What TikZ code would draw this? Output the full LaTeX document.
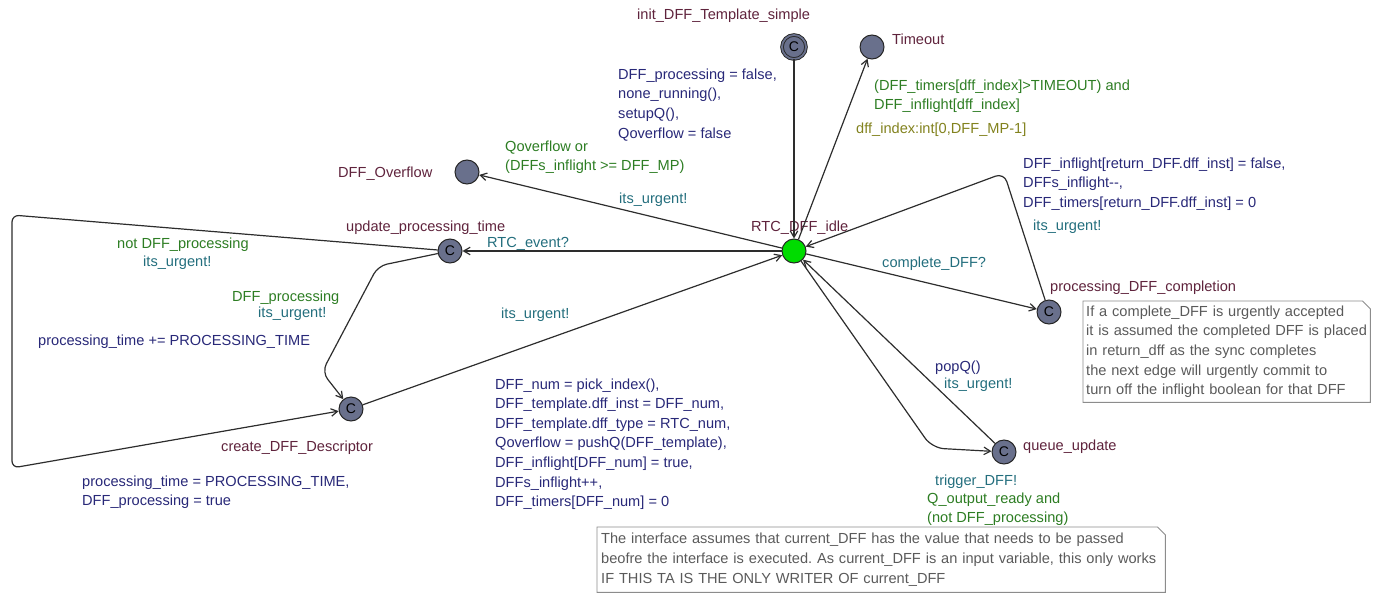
\documentclass[tikz,border=0pt]{standalone}
\usepackage{fontspec}
\setmainfont{Liberation Sans}
\usetikzlibrary{arrows.meta,calc}
\frenchspacing

\definecolor{locname}{RGB}{95,35,60}
\definecolor{updcol}{RGB}{40,40,120}
\definecolor{grdcol}{RGB}{45,125,35}
\definecolor{syncol}{RGB}{35,110,125}
\definecolor{selcol}{RGB}{130,130,30}
\definecolor{notetext}{RGB}{90,90,90}
\definecolor{noteline}{RGB}{140,140,140}
\definecolor{locfill}{RGB}{105,112,140}
\definecolor{idlefill}{RGB}{0,220,0}
\definecolor{edgecol}{RGB}{45,45,45}

\tikzset{
  txt/.style={font=\fontsize{14.6}{19.6}\selectfont},
  loc/.style={circle, minimum size=24pt, inner sep=0pt, fill=locfill,
    draw=black!85, line width=1pt, font=\fontsize{14}{14}\selectfont},
  initloc/.style={loc, double=locfill, double distance=1.8pt, line width=0.9pt},
  idleloc/.style={loc, fill=idlefill},
  lab/.style={txt, inner sep=0pt, anchor=base west},
  blk/.style={txt, inner sep=0pt, anchor=north west, align=left},
  nm/.style={lab, text=locname},
  upd/.style={text=updcol},
  grd/.style={text=grdcol},
  syn/.style={text=syncol},
  sel/.style={text=selcol},
  edge/.style={draw=edgecol, line width=1.2pt, -{Straight Barb[length=6.5pt,width=7.5pt]}},
  note/.style={txt, text=notetext, anchor=north west, align=left, inner xsep=3pt, inner ysep=0pt},
  noteframe/.style={draw=noteline, line width=0.9pt}
}

\begin{document}
\begin{tikzpicture}[x=1pt,y=-1pt]
\useasboundingbox (0,0) rectangle (1378,594);

% locations
\node[initloc] (init) at (794,47) {C};
\node[loc] (timeout) at (872,47) {};
\node[loc] (overflow) at (467,172) {};
\node[idleloc] (idle) at (794,251) {};
\node[loc] (update) at (450,251) {C};
\node[loc] (create) at (351,409) {C};
\node[loc] (complete) at (1049,312) {C};
\node[loc] (queue) at (1004,452) {C};

% location names
\node[nm] (n-init) at (637,19.5) {init\_DFF\_Template\_simple};
\node[nm] (n-timeout) at (892,45) {Timeout};
\node[nm] (n-overflow) at (338,177) {DFF\_Overflow};
\node[nm] (n-idle) at (751,231) {RTC\_DFF\_idle};
\node[nm] (n-update) at (346,231) {update\_processing\_time};
\node[nm] (n-create) at (221,451) {create\_DFF\_Descriptor};
\node[nm] (n-complete) at (1050,291) {processing\_DFF\_completion};
\node[nm] (n-queue) at (1023,450) {queue\_update};

% coordinates for bent edges
\coordinate (pc1) at (378,266);
\coordinate (pc2) at (322,372);
\coordinate (lc1) at (12,215);
\coordinate (lc2) at (12,468);
\coordinate (cc1) at (1004,173);
\coordinate (qc1) at (932,448);

% edges
\draw[edge] (init) -- (idle);
\draw[edge] (idle) -- (timeout);
\draw[edge] (idle) -- (overflow);
\draw[edge] (idle) -- (update);
\draw[edge, rounded corners=9pt] (update) -- (pc1) -- (pc2) -- (create);
\draw[edge, rounded corners=7pt] (update) -- (lc1) -- (lc2) -- (create);
\draw[edge] (create) -- (idle);
\draw[edge] (idle) -- (complete);
\draw[edge, rounded corners=9pt] (complete) -- (cc1) -- (idle);
\draw[edge, rounded corners=12pt] (idle) -- (qc1) -- (queue);
\draw[edge] (queue) -- (idle);

% edge labels
\node[blk, upd] (u-init) at (618,68.5) {DFF\_processing = false,\\none\_running(),\\setupQ(),\\Qoverflow = false};
\node[blk, grd] (g-timeout) at (874,79.5) {(DFF\_timers[dff\_index]>TIMEOUT) and\\DFF\_inflight[dff\_index]};
\node[lab, sel] (s-timeout) at (856,133) {dff\_index:int[0,DFF\_MP-1]};
\node[blk, grd] (g-overflow) at (505,140.5) {Qoverflow or\\(DFFs\_inflight >= DFF\_MP)};
\node[lab, syn] (y-overflow) at (619,203) {its\_urgent!};
\node[lab, syn] (y-rtc) at (487,247) {RTC\_event?};
\node[lab, grd] (g-notproc) at (117,248) {not DFF\_processing};
\node[lab, syn] (y-notproc) at (143,266) {its\_urgent!};
\node[lab, grd] (g-proc) at (232,301) {DFF\_processing};
\node[lab, syn] (y-proc) at (258,317) {its\_urgent!};
\node[lab, upd] (u-proc) at (38,345) {processing\_time += PROCESSING\_TIME};
\node[blk, upd] (u-notproc) at (82,475.4) {processing\_time = PROCESSING\_TIME,\\DFF\_processing = true};
\node[lab, syn] (y-create) at (501,318) {its\_urgent!};
\node[blk, upd] (u-create) at (495,378.4) {DFF\_num = pick\_index(),\\DFF\_template.dff\_inst = DFF\_num,\\DFF\_template.dff\_type = RTC\_num,\\Qoverflow = pushQ(DFF\_template),\\DFF\_inflight[DFF\_num] = true,\\DFFs\_inflight++,\\DFF\_timers[DFF\_num] = 0};
\node[lab, syn] (y-complete) at (882,267) {complete\_DFF?};
\node[blk, upd] (u-complete) at (1023,157.4) {DFF\_inflight[return\_DFF.dff\_inst] = false,\\DFFs\_inflight-\kern0pt-,\\DFF\_timers[return\_DFF.dff\_inst] = 0};
\node[lab, syn] (y-return) at (1033,230) {its\_urgent!};
\node[lab, upd] (u-pop) at (935,371) {popQ()};
\node[lab, syn] (y-pop) at (944,388) {its\_urgent!};
\node[lab, syn] (y-trigger) at (935,485) {trigger\_DFF!};
\node[blk, grd] (g-trigger) at (927,492.4) {Q\_output\_ready and\\(not DFF\_processing)};

% comments
\node[note, minimum width=287pt, minimum height=101pt, text width=281pt] (note1) at (1083,301)
  {If a complete\_DFF is urgently accepted\\it is assumed the completed DFF is placed\\in return\_dff as the sync completes\\the next edge will urgently commit to\\turn off the inflight boolean for that DFF};
\draw[noteframe] (note1.north west) -- ([xshift=-8pt]note1.north east) -- ([yshift=-8pt]note1.north east)
  -- (note1.south east) -- (note1.south west) -- cycle;
\node[note, inner xsep=4pt, minimum width=568pt, minimum height=65pt, text width=560pt] (note2) at (597,527)
  {The interface assumes that current\_DFF has the value that needs to be passed\\beofre the interface is executed. As current\_DFF is an input variable, this only works\\IF THIS TA IS THE ONLY WRITER OF current\_DFF};
\draw[noteframe] (note2.north west) -- ([xshift=-8pt]note2.north east) -- ([yshift=-8pt]note2.north east)
  -- (note2.south east) -- (note2.south west) -- cycle;
\end{tikzpicture}
\end{document}
